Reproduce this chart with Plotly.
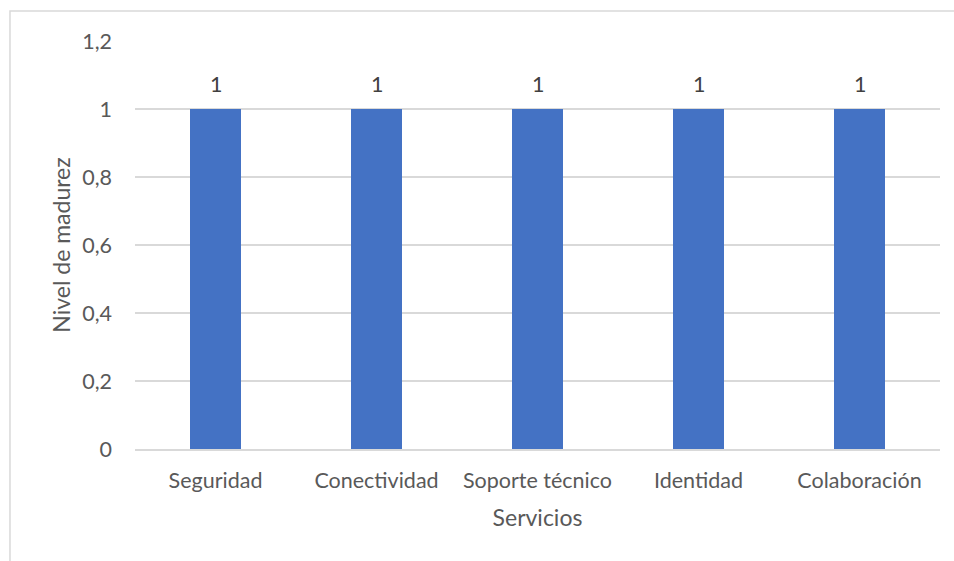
import plotly.graph_objects as go

categories = ["Seguridad", "Conectividad", "Soporte técnico", "Identidad", "Colaboración"]
values = [1, 1, 1, 1, 1]
y_ticks = [0, 0.2, 0.4, 0.6, 0.8, 1, 1.2]

FONT = "Lato"
fig = go.Figure()
fig.add_trace(go.Bar(
    x=categories, y=values,
    marker=dict(color="#4472C4", line=dict(width=0)),
    width=0.317,
    hoverinfo="x+y",
))
for c, v in zip(categories, values):
    fig.add_annotation(x=c, y=v, text=f"{v}", showarrow=False, yshift=25,
                       font=dict(family=FONT, size=21.5, color="#404040"))

fig.add_shape(type="rect", xref="x domain", yref="y domain",
              x0=-0.1553, x1=1.2, y0=-0.4, y1=1.0735,
              line=dict(color="#D9D9D9", width=1.5), fillcolor="rgba(0,0,0,0)", layer="below")

fig.update_layout(
    width=954, height=561,
    margin=dict(l=135, r=14, t=41, b=112, pad=0),
    paper_bgcolor="white", plot_bgcolor="white",
    separators=", ",
    showlegend=False,
    font=dict(family=FONT, size=21.5, color="#595959"),
    bargap=0,
)
fig.update_xaxes(
    showline=True, linecolor="#D9D9D9", linewidth=1.5,
    showgrid=False, ticks="", ticklabelstandoff=11,
    tickfont=dict(size=21.5, color="#595959"),
    title=dict(text="Servicios", font=dict(size=23, color="#595959"), standoff=18),
    range=[-0.5, 4.5],
)
fig.update_yaxes(
    range=[0, 1.2], tickvals=y_ticks,
    showgrid=True, gridcolor="#D9D9D9", gridwidth=1.5,
    zeroline=False, showline=False, ticks="",
    ticklabelstandoff=22,
    tickfont=dict(size=21.5, color="#595959"),
    title=dict(text="Nivel de madurez", font=dict(size=23, color="#595959"), standoff=5),
)
fig.write_html("out.html")
